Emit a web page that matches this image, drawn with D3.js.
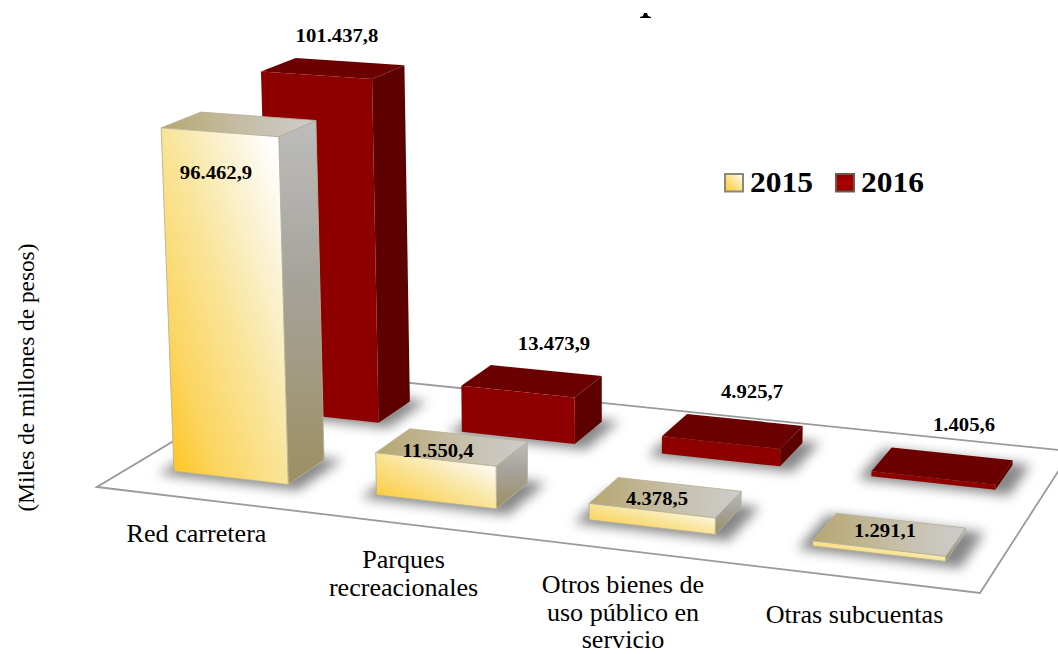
<!DOCTYPE html><html><head><meta charset="utf-8"><style>html,body{margin:0;background:#fff}svg{display:block}text{font-family:"Liberation Serif",serif;fill:#000}</style></head><body>
<script src="https://d3js.org/d3.v7.min.js"></script>
<svg id="c" width="1058" height="654"></svg>
<script>
// ---- data ----
const categories=["Red carretera","Parques recreacionales","Otros bienes de uso público en servicio","Otras subcuentas"];
const seriesNames=["2015","2016"];
const values2015=[96462.9,11550.4,4378.5,1291.1];
const values2016=[101437.8,13473.9,4925.7,1405.6];
const labels2015=["96.462,9","11.550,4","4.378,5","1.291,1"];
const labels2016=["101.437,8","13.473,9","4.925,7","1.405,6"];
const axisTitle="(Miles de millones de pesos)";
// ---- layout ----
const floorCorners=[[97,487],[980,593],[1071,451.3],[291,370.6]]; // FL FR BR BL (BR runs off the picture)
const labelLines=[["Red carretera"],["Parques","recreacionales"],["Otros bienes de","uso público en","servicio"],["Otras subcuentas"]];
const labelAt=[[196.5,541.5],[403.5,568],[623,593],[854.5,623]];
const valueLabelAt2015=[[216,179],[438,457],[657,505],[885,537]];
const valueLabelAt2016=[[337,42],[554,350],[752,398],[964,431]];

const svg=d3.select("#c");
const defs=svg.append("defs");
function grad(id,x1,y1,x2,y2,stops){const g=defs.append("linearGradient").attr("id",id).attr("x1",x1).attr("y1",y1).attr("x2",x2).attr("y2",y2);
  stops.forEach(s=>g.append("stop").attr("offset",s[0]).attr("stop-color",s[1]));}
grad("front15",0,1,1,0,[[0,"#FEC10F"],[.25,"#FCD562"],[.5,"#F9E497"],[.75,"#FBF3D6"],[.92,"#ffffff"],[1,"#ffffff"]]);
grad("side15",0,0,0,1,[[0,"#BDBDBD"],[.45,"#A5A29A"],[1,"#9D8F62"]]);
grad("top15",0,0,1,0,[[0,"#B7A670"],[.55,"#C6BFA8"],[1,"#CCCCCC"]]);
grad("sw15",0,1,1,0,[[0,"#FEC82A"],[.6,"#FBE7A0"],[1,"#ffffff"]]);
grad("sw16",0,0,0,1,[[0,"#8E0000"],[.5,"#B00000"],[1,"#8E0000"]]);
const blur=defs.append("filter").attr("id","blur").attr("x","-30%").attr("y","-60%").attr("width","160%").attr("height","220%");
blur.append("feGaussianBlur").attr("stdDeviation",6);

// homography: unit floor square (u right, v back) -> screen
function homography([[x0,y0],[x1,y1],[x2,y2],[x3,y3]]){
  const dx1=x1-x2,dx2=x3-x2,sx=x0-x1+x2-x3,dy1=y1-y2,dy2=y3-y2,sy=y0-y1+y2-y3,den=dx1*dy2-dx2*dy1;
  const g=(sx*dy2-dx2*sy)/den,h=(dx1*sy-sx*dy1)/den;
  return (u,v)=>{const w=g*u+h*v+1;return [((x1-x0+g*x1)*u+(x3-x0+h*x3)*v+x0)/w,((y1-y0+g*y1)*u+(y3-y0+h*y3)*v+y0)/w];};
}
const floor=homography(floorCorners);
const uScale=d3.scaleBand().domain(categories).range([0,1]).paddingInner(.43).paddingOuter(.215);
const vScale=d3.scaleBand().domain(seriesNames).range([0.005,1.005]).paddingInner(.62).paddingOuter(.31);
const hScale=d3.scaleLinear().domain([0,110000]).range([0,396]);
// raise a floor point by a value: verticals converge on a point below the picture, far bars shrink
function lift([x,y],val){const h=hScale(val)*(1-(483-y)*0.00097);return [x-(590-x)*0.00009*h,y-h];}

const gFloor=svg.append("g"),gShadow=svg.append("g"),gBars=svg.append("g"),gText=svg.append("g");
gFloor.append("polygon").attr("points",floorCorners.join(" ")).attr("fill","#fff").attr("stroke","#9a9a9a").attr("stroke-width",1.8);

const series=[
 {name:"2016",vals:values2016,front:"#8E0000",side:"#5C0000",top:"#6A0000",edge:"none",fw:0},
 {name:"2015",vals:values2015,front:"url(#front15)",side:"url(#side15)",top:"url(#top15)",edge:"#B8B296",fw:.9}
];
series.forEach(s=>{
  categories.forEach((c,i)=>{
    const u0=uScale(c),u1=u0+uScale.bandwidth(),v0=vScale(s.name),v1=v0+vScale.bandwidth();
    const e=.012,ve=.03;
    gShadow.append("polygon").attr("points",[floor(u0-e,v0-ve),floor(u1+e*1.6,v0-ve),floor(u1+e*1.6,v1+ve*.5),floor(u0-e,v1+ve*.5)].join(" "))
      .attr("fill","#555").attr("opacity",.7).attr("filter","url(#blur)");
    const b=[floor(u0,v0),floor(u1,v0),floor(u1,v1),floor(u0,v1)],t=b.map(p=>lift(p,s.vals[i]));
    const g=gBars.append("g").attr("stroke",s.edge).attr("stroke-width",s.fw).attr("stroke-linejoin","round");
    g.append("polygon").attr("points",[b[1],b[2],t[2],t[1]].join(" ")).attr("fill",s.side);
    g.append("polygon").attr("points",[t[0],t[1],t[2],t[3]].join(" ")).attr("fill",s.top);
    g.append("polygon").attr("points",[b[0],b[1],t[1],t[0]].join(" ")).attr("fill",s.front);
  });
});
// clipped remnant of a title at the picture's top
svg.append("polygon").attr("points","640,18 651,18 651,17 648,16 647,13 644,13 643,16 640,17").attr("fill","#000");

// text: the reference's type is stretched sideways, hence the x scale
const lab=(g,t,x,y,size,bold,sx,anchor)=>g.append("text").attr("transform",`translate(${x},${y}) scale(${sx},1)`).attr("font-size",size).attr("font-weight",bold?"bold":"normal").attr("text-anchor",anchor||"middle").text(t);
labels2015.forEach((t,i)=>lab(gText,t,...valueLabelAt2015[i],19,true,1.09));
labels2016.forEach((t,i)=>lab(gText,t,...valueLabelAt2016[i],19,true,1.09));
labelLines.forEach((ls,i)=>ls.forEach((l,j)=>lab(gText,l,labelAt[i][0],labelAt[i][1]+j*27.7,25,false,1.045)));
gText.append("text").attr("transform","translate(33.5,377.5) rotate(-90)").attr("font-size",23.3).attr("text-anchor","middle").text(axisTitle);
// legend
[[724,"url(#sw15)","#8C8878"],[835,"url(#sw16)","#6E5A4C"]].forEach((d,i)=>{
  svg.append("rect").attr("x",d[0]+1).attr("y",174).attr("width",18).attr("height",17.5).attr("fill",d[1]).attr("stroke",d[2]).attr("stroke-width",2);
  lab(svg,seriesNames[i],d[0]+26,192,30,true,1.05,"start");
});
</script></body></html>
